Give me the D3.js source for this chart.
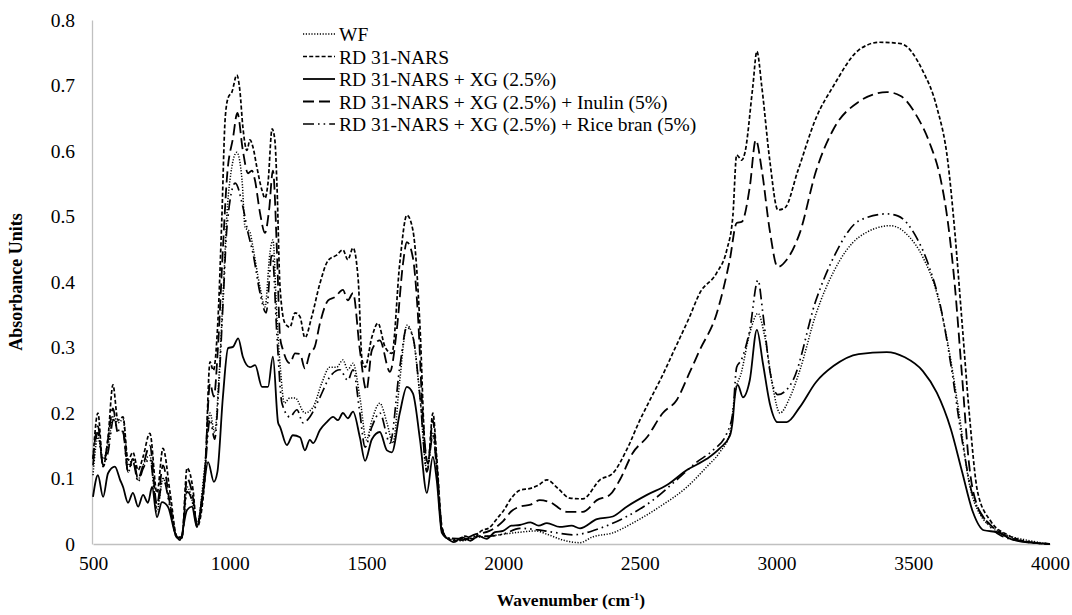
<!DOCTYPE html>
<html><head><meta charset="utf-8">
<script src="https://cdn.jsdelivr.net/npm/d3@7"></script>
<style>body{margin:0;background:#fff}svg{display:block}
svg text{font-family:"Liberation Serif","Times New Roman",Times,"DejaVu Serif",serif !important;}</style>
</head><body><svg id="c" width="1072" height="615"></svg>
<script>
const xTicks = [500,1000,1500,2000,2500,3000,3500,4000];
const yTicks = [0,0.1,0.2,0.3,0.4,0.5,0.6,0.7,0.8];
const seriesNames = ["WF","RD 31-NARS","RD 31-NARS + XG (2.5%)","RD 31-NARS + XG (2.5%) + Inulin (5%)","RD 31-NARS + XG (2.5%) + Rice bran (5%)"];

const WF = [[500,0.105],[518,0.163],[537,0.13],[555,0.15],[575,0.196],[591,0.185],[610,0.19],[628,0.12],[646,0.13],[665,0.098],[683,0.12],[708,0.135],[734,0.05],[756,0.1],[782,0.06],[807,0.01],[825,0.01],[844,0.087],[866,0.06],[880,0.03],[909,0.12],[928,0.2],[945,0.17],[960,0.25],[977,0.392],[990,0.505],[1001,0.556],[1026,0.598],[1045,0.556],[1056,0.484],[1074,0.476],[1085,0.453],[1111,0.392],[1129,0.362],[1147,0.444],[1158,0.464],[1173,0.342],[1185,0.27],[1200,0.215],[1220,0.223],[1239,0.223],[1275,0.2],[1305,0.209],[1337,0.246],[1366,0.27],[1391,0.27],[1414,0.281],[1432,0.266],[1451,0.276],[1476,0.224],[1500,0.159],[1520,0.189],[1549,0.215],[1575,0.185],[1597,0.154],[1622,0.25],[1648,0.334],[1670,0.316],[1696,0.224],[1721,0.113],[1743,0.169],[1757,0.118],[1776,0.02],[1794,0.01],[1850,0.005],[1900,0.01],[1950,0.012],[2000,0.015],[2061,0.018],[2120,0.02],[2160,0.015],[2219,0.006],[2281,0.002],[2328,0.011],[2401,0.017],[2474,0.032],[2573,0.057],[2672,0.087],[2745,0.118],[2792,0.14],[2830,0.17],[2850,0.235],[2870,0.26],[2902,0.322],[2932,0.352],[2957,0.316],[2986,0.24],[3012,0.2],[3050,0.225],[3085,0.265],[3144,0.351],[3209,0.416],[3300,0.468],[3417,0.486],[3483,0.47],[3535,0.438],[3586,0.383],[3626,0.307],[3666,0.204],[3704,0.094],[3743,0.046],[3820,0.018],[3926,0.005],[4000,0]];

const RD = [[500,0.13],[518,0.2],[537,0.118],[555,0.163],[573,0.243],[591,0.189],[610,0.194],[628,0.128],[646,0.14],[665,0.113],[683,0.133],[708,0.169],[734,0.078],[756,0.146],[782,0.078],[807,0.011],[825,0.009],[844,0.116],[866,0.082],[880,0.026],[909,0.098],[928,0.278],[940,0.265],[957,0.342],[971,0.495],[983,0.647],[994,0.681],[1008,0.69],[1026,0.716],[1037,0.693],[1048,0.637],[1063,0.601],[1074,0.617],[1085,0.606],[1099,0.576],[1118,0.54],[1129,0.528],[1140,0.551],[1155,0.634],[1165,0.617],[1173,0.545],[1184,0.392],[1202,0.337],[1220,0.331],[1239,0.353],[1257,0.347],[1275,0.315],[1300,0.347],[1330,0.398],[1360,0.433],[1391,0.441],[1414,0.449],[1432,0.434],[1451,0.452],[1470,0.403],[1484,0.281],[1495,0.27],[1520,0.316],[1542,0.337],[1568,0.301],[1593,0.291],[1622,0.429],[1648,0.502],[1670,0.479],[1696,0.331],[1714,0.148],[1725,0.123],[1743,0.2],[1757,0.133],[1776,0.026],[1794,0.009],[1830,0.005],[1860,0.012],[1890,0.008],[1920,0.02],[1950,0.025],[1980,0.04],[2000,0.05],[2030,0.07],[2061,0.082],[2100,0.085],[2130,0.09],[2160,0.098],[2200,0.085],[2244,0.07],[2292,0.069],[2354,0.098],[2401,0.108],[2452,0.144],[2500,0.189],[2537,0.22],[2580,0.255],[2630,0.3],[2680,0.345],[2719,0.383],[2781,0.414],[2818,0.449],[2840,0.5],[2854,0.594],[2873,0.586],[2884,0.597],[2913,0.698],[2928,0.752],[2946,0.698],[2975,0.586],[3005,0.51],[3030,0.513],[3078,0.57],[3144,0.65],[3209,0.70],[3300,0.754],[3377,0.766],[3454,0.764],[3535,0.722],[3586,0.667],[3626,0.585],[3652,0.476],[3678,0.34],[3704,0.203],[3736,0.078],[3783,0.035],[3849,0.013],[3926,0.003],[4000,0]];

const XG = [[500,0.072],[518,0.105],[537,0.072],[555,0.108],[580,0.118],[599,0.098],[610,0.087],[628,0.063],[646,0.078],[665,0.057],[683,0.075],[701,0.063],[716,0.087],[734,0.041],[752,0.064],[774,0.057],[800,0.017],[818,0.006],[844,0.052],[862,0.057],[880,0.026],[902,0.078],[921,0.125],[942,0.095],[955,0.11],[975,0.224],[994,0.299],[1012,0.301],[1031,0.314],[1048,0.286],[1074,0.27],[1093,0.273],[1118,0.24],[1140,0.24],[1158,0.286],[1177,0.185],[1184,0.179],[1209,0.151],[1231,0.166],[1257,0.163],[1275,0.143],[1293,0.159],[1305,0.154],[1330,0.174],[1355,0.186],[1378,0.194],[1396,0.189],[1414,0.2],[1432,0.192],[1451,0.202],[1476,0.163],[1495,0.127],[1520,0.16],[1549,0.171],[1575,0.143],[1593,0.14],[1622,0.2],[1648,0.24],[1670,0.23],[1696,0.159],[1721,0.078],[1743,0.133],[1757,0.098],[1776,0.017],[1794,0.009],[1820,0.003],[1850,0.01],[1880,0.005],[1910,0.012],[1940,0.008],[1970,0.018],[2000,0.02],[2030,0.028],[2061,0.029],[2100,0.033],[2130,0.028],[2160,0.032],[2207,0.026],[2250,0.028],[2281,0.024],[2343,0.038],[2401,0.042],[2452,0.057],[2526,0.075],[2599,0.09],[2672,0.113],[2745,0.13],[2792,0.146],[2829,0.165],[2840,0.19],[2847,0.224],[2858,0.243],[2877,0.224],[2902,0.25],[2928,0.327],[2950,0.276],[2975,0.215],[3004,0.186],[3037,0.186],[3085,0.209],[3144,0.247],[3209,0.272],[3300,0.29],[3403,0.293],[3469,0.285],[3535,0.264],[3586,0.231],[3637,0.176],[3678,0.111],[3717,0.05],[3758,0.021],[3809,0.018],[3860,0.007],[3930,0.002],[4000,0]];

const INULIN = [[500,0.13],[518,0.18],[537,0.12],[555,0.16],[573,0.207],[591,0.17],[610,0.172],[628,0.11],[646,0.13],[665,0.1],[683,0.12],[708,0.15],[734,0.06],[756,0.12],[782,0.06],[807,0.01],[825,0.01],[844,0.1],[866,0.07],[880,0.03],[909,0.11],[928,0.245],[942,0.225],[957,0.3],[975,0.45],[990,0.56],[1012,0.62],[1028,0.658],[1048,0.601],[1067,0.566],[1081,0.57],[1092,0.556],[1111,0.505],[1129,0.475],[1144,0.51],[1158,0.57],[1173,0.444],[1184,0.316],[1195,0.296],[1220,0.276],[1239,0.291],[1257,0.29],[1275,0.268],[1293,0.291],[1311,0.301],[1330,0.337],[1360,0.372],[1385,0.377],[1414,0.388],[1432,0.372],[1451,0.383],[1476,0.296],[1500,0.235],[1520,0.296],[1549,0.311],[1586,0.263],[1611,0.327],[1634,0.429],[1648,0.461],[1670,0.437],[1688,0.352],[1707,0.189],[1725,0.123],[1743,0.189],[1757,0.123],[1776,0.026],[1794,0.009],[1850,0.008],[1900,0.015],[1950,0.02],[2000,0.035],[2030,0.05],[2061,0.057],[2100,0.06],[2134,0.067],[2171,0.064],[2233,0.049],[2292,0.049],[2343,0.067],[2390,0.075],[2427,0.098],[2474,0.139],[2526,0.163],[2584,0.2],[2635,0.22],[2680,0.26],[2719,0.296],[2781,0.352],[2829,0.434],[2854,0.49],[2873,0.492],[2902,0.545],[2924,0.617],[2946,0.571],[2975,0.479],[3004,0.423],[3037,0.434],[3085,0.475],[3144,0.569],[3209,0.634],[3300,0.675],[3352,0.686],[3403,0.69],[3454,0.684],[3509,0.656],[3560,0.612],[3600,0.557],[3626,0.493],[3652,0.394],[3678,0.258],[3704,0.122],[3736,0.056],[3783,0.029],[3850,0.01],[3926,0.003],[4000,0]];

const RICE = [[500,0.12],[518,0.17],[537,0.12],[555,0.14],[575,0.19],[591,0.175],[610,0.17],[628,0.11],[646,0.125],[665,0.095],[683,0.115],[708,0.13],[734,0.055],[756,0.1],[782,0.055],[807,0.01],[825,0.01],[844,0.08],[866,0.06],[880,0.03],[909,0.11],[928,0.19],[945,0.16],[960,0.24],[977,0.38],[990,0.484],[1020,0.551],[1048,0.515],[1067,0.475],[1085,0.444],[1111,0.383],[1133,0.353],[1155,0.444],[1173,0.316],[1191,0.215],[1220,0.194],[1246,0.205],[1268,0.185],[1293,0.194],[1330,0.224],[1366,0.255],[1403,0.266],[1432,0.25],[1451,0.266],[1476,0.2],[1495,0.148],[1520,0.179],[1549,0.2],[1586,0.154],[1622,0.27],[1648,0.331],[1670,0.316],[1696,0.224],[1721,0.11],[1743,0.165],[1757,0.115],[1776,0.02],[1794,0.01],[1850,0.006],[1900,0.012],[1950,0.012],[2000,0.015],[2061,0.024],[2120,0.022],[2182,0.018],[2255,0.014],[2354,0.024],[2452,0.042],[2548,0.067],[2635,0.098],[2708,0.125],[2767,0.143],[2818,0.169],[2840,0.2],[2854,0.27],[2870,0.28],[2902,0.327],[2932,0.403],[2950,0.352],[2975,0.266],[3004,0.228],[3060,0.25],[3144,0.372],[3209,0.438],[3300,0.493],[3403,0.504],[3443,0.501],[3509,0.47],[3560,0.421],[3600,0.362],[3637,0.275],[3678,0.16],[3711,0.084],[3758,0.04],[3820,0.013],[3900,0.004],[4000,0]];

const seriesData = [WF, RD, XG, INULIN, RICE];
const dashes = ["1.2,1.6", "4,2.2", null, "11,5", "11,4,1.6,4,1.6,4"];
const widths = [1.5, 1.7, 1.8, 1.8, 1.7];

const svg = d3.select("#c");
const m = {l:92, r:1050, t:20, b:544};
const x = d3.scaleLinear().domain([500,4000]).range([m.l+1, m.r]);
const y = d3.scaleLinear().domain([0,0.8]).range([m.b, m.t]);

// axes
const xAxis = svg.append("g").attr("transform",`translate(0,${m.b})`)
  .call(d3.axisBottom(x).tickValues(xTicks).tickSize(0).tickPadding(12).tickFormat(d3.format("d")));
const yAxis = svg.append("g").attr("transform",`translate(${m.l},0)`)
  .call(d3.axisLeft(y).tickValues(yTicks).tickSize(0).tickPadding(17).tickFormat(d => d===0 ? "0" : d3.format(".1f")(d)));
[xAxis,yAxis].forEach(g=>{
  g.attr("font-family",null).attr("font-size",null);
  g.select(".domain").attr("stroke","#c0c0c0").attr("stroke-width",1.3);
  g.selectAll("text").attr("font-size",19.5).attr("fill","#000");
});

// lines
const line = d3.line().x(d=>x(d[0])).y(d=>y(d[1])).curve(d3.curveMonotoneX);
seriesData.forEach((s,i)=>{
  svg.append("path").datum(s).attr("d",line).attr("fill","none")
    .attr("stroke","#000").attr("stroke-width",widths[i])
    .attr("stroke-dasharray",dashes[i]).attr("stroke-linejoin","round");
});

// legend
const lg = svg.append("g");
seriesNames.forEach((n,i)=>{
  const cy = 34 + i*22.5;
  lg.append("line").attr("x1",303).attr("x2",335).attr("y1",cy).attr("y2",cy)
    .attr("stroke","#000").attr("stroke-width",widths[i]).attr("stroke-dasharray",dashes[i]);
  lg.append("text").attr("x",339).attr("y",cy+7).attr("font-size",19.5).text(n);
});

// axis titles
const xt = svg.append("text").attr("x",(m.l+m.r)/2).attr("y",606).attr("text-anchor","middle")
  .attr("font-size",17.5).attr("font-weight","bold");
xt.append("tspan").text("Wavenumber (cm");
xt.append("tspan").attr("font-size",11).attr("dy",-6).text("-1");
xt.append("tspan").attr("dy",6).text(")");
svg.append("text").attr("transform",`translate(22,${(m.t+m.b)/2}) rotate(-90)`).attr("text-anchor","middle")
  .attr("font-size",18).attr("font-weight","bold").text("Absorbance Units");
</script></body></html>
